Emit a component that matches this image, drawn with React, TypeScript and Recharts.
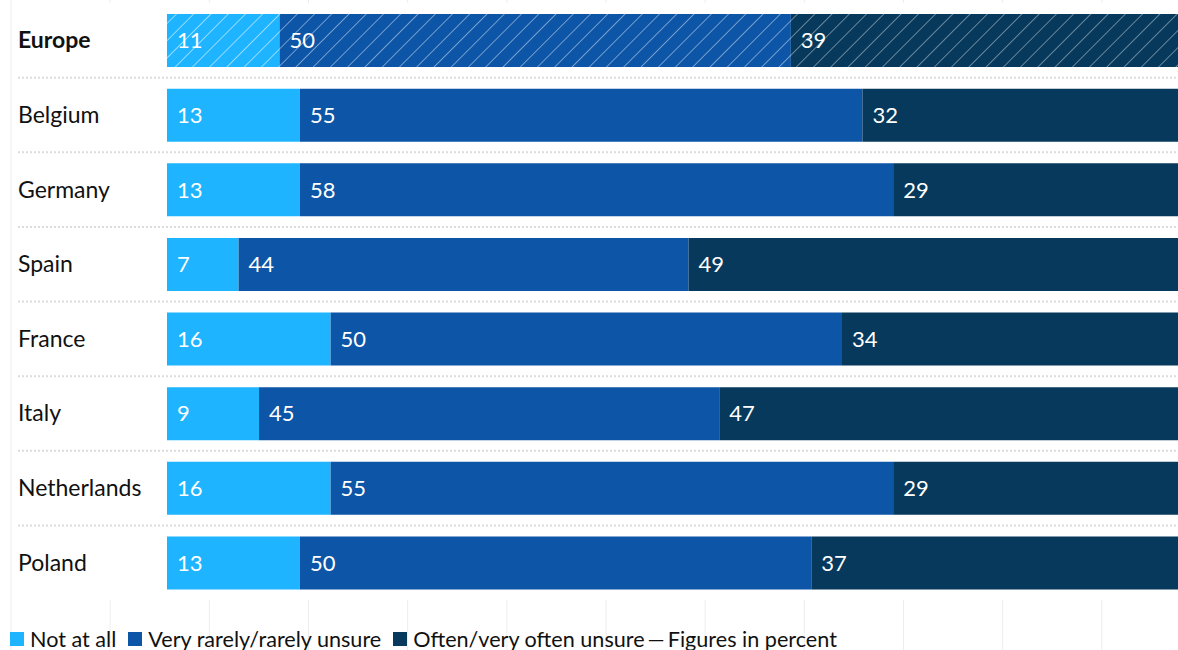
import React from 'react';
import { BarChart, Bar, XAxis, YAxis, CartesianGrid, Cell, LabelList, Legend, ReferenceArea } from 'recharts';

// ---- data ----
const countries = ['Europe', 'Belgium', 'Germany', 'Spain', 'France', 'Italy', 'Netherlands', 'Poland'];
const notAtAll = [11, 13, 13, 7, 16, 9, 16, 13];
const rarelyUnsure = [50, 55, 58, 44, 50, 45, 55, 50];
const oftenUnsure = [39, 32, 29, 49, 34, 47, 29, 37];
const seriesNames = ['Not at all', 'Very rarely/rarely unsure', 'Often/very often unsure'];
const legendNote = 'Figures in percent';
const highlighted = 'Europe';

const data = countries.map((c, i) => ({
  country: c,
  a: notAtAll[i],
  b: rarelyUnsure[i],
  c: oftenUnsure[i],
}));

// ---- style / layout ----
const COLORS = ['#1FB4FF', '#0D55A6', '#06395B'];
const HATCH_IDS = ['hatchA', 'hatchB', 'hatchC'];
const HATCH_OPACITY = [0.85, 0.7, 0.65];
const FONT = 'Lato, "Open Sans", sans-serif';
const CHART_W = 1201;
const CHART_H = 650;
const PAD_TOP = 3;
const PAD_BOTTOM = 50;
const BAND = (CHART_H - PAD_TOP - PAD_BOTTOM) / countries.length;
const LABEL_X = 18;
const X_DOMAIN: [number, number] = [-15.25, 101.1];
const COVER_X1 = -14.57;

const CountryTick = (props: any) => {
  const { y, payload, index } = props;
  const bold = payload.value === highlighted;
  return (
    <g>
      <text
        x={LABEL_X}
        y={y}
        dy="0.35em"
        textAnchor="start"
        fontFamily={FONT}
        fontSize={23}
        fontWeight={bold ? 700 : 400}
        fill="#111"
      >
        {payload.value}
      </text>
      {index < countries.length - 1 && (
        <line
          x1={LABEL_X}
          x2={CHART_W}
          y1={y + BAND / 2}
          y2={y + BAND / 2}
          stroke="#dcdcdc"
          strokeWidth={2}
          strokeDasharray="2 2"
        />
      )}
    </g>
  );
};

const LegendContent = () => (
  <div
    style={{
      display: 'flex',
      alignItems: 'center',
      whiteSpace: 'nowrap',
      fontFamily: FONT,
      fontSize: 21.6,
      lineHeight: '26px',
      color: '#111',
    }}
  >
    {seriesNames.map((name, i) => (
      <span key={i} style={{ display: 'inline-flex', alignItems: 'center', marginRight: 12 }}>
        <span style={{ display: 'inline-block', width: 14, height: 14, background: COLORS[i], marginRight: 6 }} />
        {name}
      </span>
    ))}
    <span style={{ marginLeft: -9, marginRight: 3 }}>{'\u2014'}</span>
    <span>{legendNote}</span>
  </div>
);

export default function App() {
  return (
    <div style={{ width: 1178, height: 650, overflow: 'hidden', position: 'relative', background: '#fff' }}>
      <style>{'html,body{margin:0;padding:0;}'}</style>
      <BarChart
        width={CHART_W}
        height={CHART_H}
        data={data}
        layout="vertical"
        margin={{ top: 0, right: 0, bottom: 0, left: 10 }}
      >
        <defs>
          {HATCH_IDS.map((id, i) => (
            <pattern key={id} id={id} patternUnits="userSpaceOnUse" width={12.2} height={12.2} patternTransform="rotate(45)">
              <rect x={0} y={0} width={12.2} height={12.2} fill={COLORS[i]} />
              <line x1={0} y1={0} x2={0} y2={12.2} stroke="#ffffff" strokeOpacity={HATCH_OPACITY[i]} strokeWidth={1.2} />
            </pattern>
          ))}
        </defs>
        <CartesianGrid
          horizontal={false}
          stroke="#ededed"
          verticalCoordinatesGenerator={({ offset }: any) =>
            Array.from({ length: 13 }, (_, i) => offset.left + (offset.width * i) / 12)
          }
        />
        <XAxis type="number" domain={X_DOMAIN} allowDataOverflow hide />
        <ReferenceArea x1={COVER_X1} x2={X_DOMAIN[1]} fill="#ffffff" fillOpacity={1} stroke="none" ifOverflow="hidden" />
        <YAxis
          type="category"
          dataKey="country"
          width={1}
          axisLine={false}
          tickLine={false}
          padding={{ top: PAD_TOP, bottom: PAD_BOTTOM }}
          tick={<CountryTick />}
          interval={0}
        />
        {(['a', 'b', 'c'] as const).map((key, si) => (
          <Bar
            key={key}
            dataKey={key}
            name={seriesNames[si]}
            stackId="s"
            fill={COLORS[si]}
            barSize={53}
            isAnimationActive={false}
          >
            {data.map((d, i) => (
              <Cell key={i} fill={d.country === highlighted ? `url(#${HATCH_IDS[si]})` : COLORS[si]} />
            ))}
            <LabelList
              dataKey={key}
              position="insideLeft"
              offset={10}
              fill="#ffffff"
              fontSize={22}
              fontFamily={FONT}
            />
          </Bar>
        ))}
        <Legend
          layout="horizontal"
          verticalAlign="middle"
          align="center"
          content={<LegendContent />}
          wrapperStyle={{ position: 'absolute', left: 10, top: 626, width: 'auto', height: 26 }}
        />
      </BarChart>
    </div>
  );
}
